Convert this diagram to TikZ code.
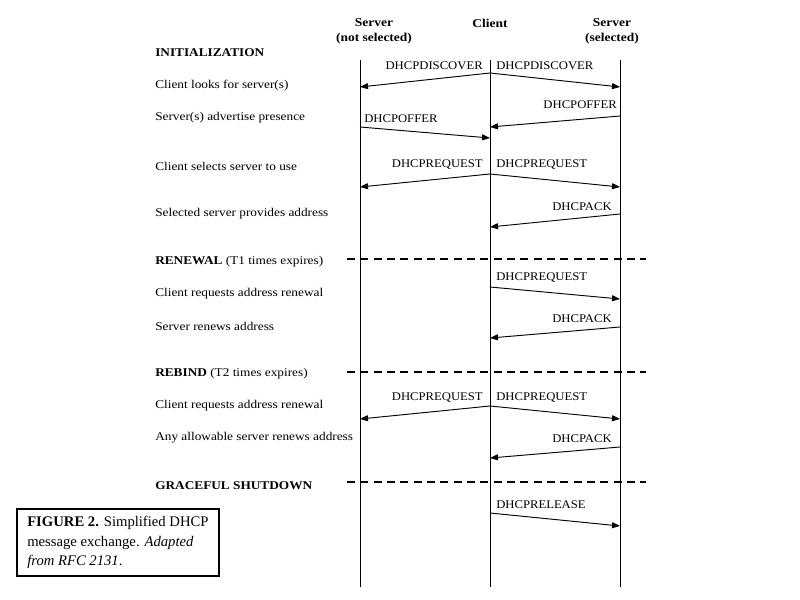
\documentclass[tikz,border=0pt]{standalone}
\usepackage{fontspec}
\setmainfont{Liberation Serif}
\usetikzlibrary{arrows.meta}
\newcommand{\sidetxt}[1]{\scalebox{1.12}[1]{#1}}
\newcommand{\lbltxt}[1]{\scalebox{1.08}[1]{#1}}
\newcommand{\headtxt}[1]{\scalebox{1.12}[1]{#1}}
\begin{document}
\begin{tikzpicture}[x=0.75pt,y=-0.75pt,
  lifeline/.style={line width=0.7pt},
  msg/.style={line width=0.7pt,-{Triangle[length=6pt,width=4.5pt]}},
  phase/.style={line width=1.6pt,dash pattern=on 6pt off 4pt},
  lbl/.style={font=\fontsize{8.8pt}{10pt}\selectfont,inner sep=0pt},
  side/.style={font=\fontsize{8.9pt}{10pt}\selectfont,inner sep=0pt,anchor=west},
  head/.style={font=\fontsize{9pt}{10pt}\selectfont\bfseries,inner sep=0pt,align=center}]
\useasboundingbox (0,0) rectangle (800,600);
\fill[white] (0,0) rectangle (800,600);
% headers
\node[head] (h1) at (374,31) {\headtxt{Server}\\[1pt]\headtxt{(not selected)}};
\node[head] (h2) at (490,23) {\headtxt{Client}};
\node[head] (h3) at (612,31) {\headtxt{Server}\\[1pt]\headtxt{(selected)}};
% lifelines
\coordinate (Lt) at (360,60); \coordinate (Lb) at (360,587);
\coordinate (Ct) at (490,60); \coordinate (Cb) at (490,587);
\coordinate (Rt) at (620,60); \coordinate (Rb) at (620,587);
\draw[lifeline] (Lt) -- (Lb);
\draw[lifeline] (Ct) -- (Cb);
\draw[lifeline] (Rt) -- (Rb);
% left texts
\node[side,font=\fontsize{8.9pt}{10pt}\selectfont\bfseries] (t1) at (155,53) {\sidetxt{INITIALIZATION}};
\node[side] (t2) at (155,86) {\sidetxt{Client looks for server(s)}};
\node[side] (t3) at (155,118) {\sidetxt{Server(s) advertise presence}};
\node[side] (t4) at (155,166) {\sidetxt{Client selects server to use}};
\node[side] (t5) at (155,214) {\sidetxt{Selected server provides address}};
\node[side] (t6) at (155,262) {\sidetxt{\textbf{RENEWAL} (T1 times expires)}};
\node[side] (t7) at (155,294) {\sidetxt{Client requests address renewal}};
\node[side] (t8) at (155,326) {\sidetxt{Server renews address}};
\node[side] (t9) at (155,374) {\sidetxt{\textbf{REBIND} (T2 times expires)}};
\node[side] (t10) at (155,406) {\sidetxt{Client requests address renewal}};
\node[side] (t11) at (155,438) {\sidetxt{Any allowable server renews address}};
\node[side,font=\fontsize{8.9pt}{10pt}\selectfont\bfseries] (t12) at (155,486) {\sidetxt{GRACEFUL SHUTDOWN}};
% phase separators
\coordinate (d1a) at (347,259); \coordinate (d1b) at (646,259);
\coordinate (d2a) at (347,372); \coordinate (d2b) at (646,372);
\coordinate (d3a) at (347,482); \coordinate (d3b) at (646,482);
\draw[phase] (d1a) -- (d1b);
\draw[phase] (d2a) -- (d2b);
\draw[phase] (d3a) -- (d3b);
% DISCOVER
\coordinate (a1) at (490,73); \coordinate (a1l) at (360,87); \coordinate (a1r) at (620,87);
\draw[msg] (a1) -- (a1l);
\draw[msg] (a1) -- (a1r);
\node[lbl,anchor=east] (m1) at (483,66) {\lbltxt{DHCPDISCOVER}};
\node[lbl,anchor=west] (m2) at (496,66) {\lbltxt{DHCPDISCOVER}};
% OFFER
\coordinate (a2s) at (620,116); \coordinate (a2e) at (490,127);
\draw[msg] (a2s) -- (a2e);
\node[lbl,anchor=east] (m3) at (617,105) {\lbltxt{DHCPOFFER}};
\coordinate (a3s) at (360,127); \coordinate (a3e) at (490,138);
\draw[msg] (a3s) -- (a3e);
\node[lbl,anchor=west] (m4) at (364,119) {\lbltxt{DHCPOFFER}};
% REQUEST
\coordinate (a4) at (490,174); \coordinate (a4l) at (360,187); \coordinate (a4r) at (620,187);
\draw[msg] (a4) -- (a4l);
\draw[msg] (a4) -- (a4r);
\node[lbl,anchor=east] (m5) at (483,165) {\lbltxt{DHCPREQUEST}};
\node[lbl,anchor=west] (m6) at (496,165) {\lbltxt{DHCPREQUEST}};
% ACK
\coordinate (a5s) at (620,214); \coordinate (a5e) at (490,227);
\draw[msg] (a5s) -- (a5e);
\node[lbl,anchor=east] (m7) at (612,207) {\lbltxt{DHCPACK}};
% renewal
\coordinate (a6s) at (490,287); \coordinate (a6e) at (620,299);
\draw[msg] (a6s) -- (a6e);
\node[lbl,anchor=west] (m8) at (496,278) {\lbltxt{DHCPREQUEST}};
\coordinate (a7s) at (620,327); \coordinate (a7e) at (490,338);
\draw[msg] (a7s) -- (a7e);
\node[lbl,anchor=east] (m9) at (612,319) {\lbltxt{DHCPACK}};
% rebind
\coordinate (a8) at (490,406); \coordinate (a8l) at (360,419); \coordinate (a8r) at (620,419);
\draw[msg] (a8) -- (a8l);
\draw[msg] (a8) -- (a8r);
\node[lbl,anchor=east] (m10) at (483,398) {\lbltxt{DHCPREQUEST}};
\node[lbl,anchor=west] (m11) at (496,398) {\lbltxt{DHCPREQUEST}};
\coordinate (a9s) at (620,447); \coordinate (a9e) at (490,458);
\draw[msg] (a9s) -- (a9e);
\node[lbl,anchor=east] (m12) at (612,439) {\lbltxt{DHCPACK}};
% release
\coordinate (a10s) at (490,513); \coordinate (a10e) at (620,526);
\draw[msg] (a10s) -- (a10e);
\node[lbl,anchor=west] (m13) at (496,505) {\lbltxt{DHCPRELEASE}};
% caption
\draw[line width=1.5pt] (17,509) rectangle (219,576);
\node[anchor=north west,inner sep=0pt,align=left,font=\fontsize{11pt}{14.6pt}\selectfont] (cap) at (27,516)
 {\textbf{FIGURE 2.} Simplified DHCP\\message exchange. \textit{Adapted}\\\textit{from RFC 2131}.};
\end{tikzpicture}
\end{document}
